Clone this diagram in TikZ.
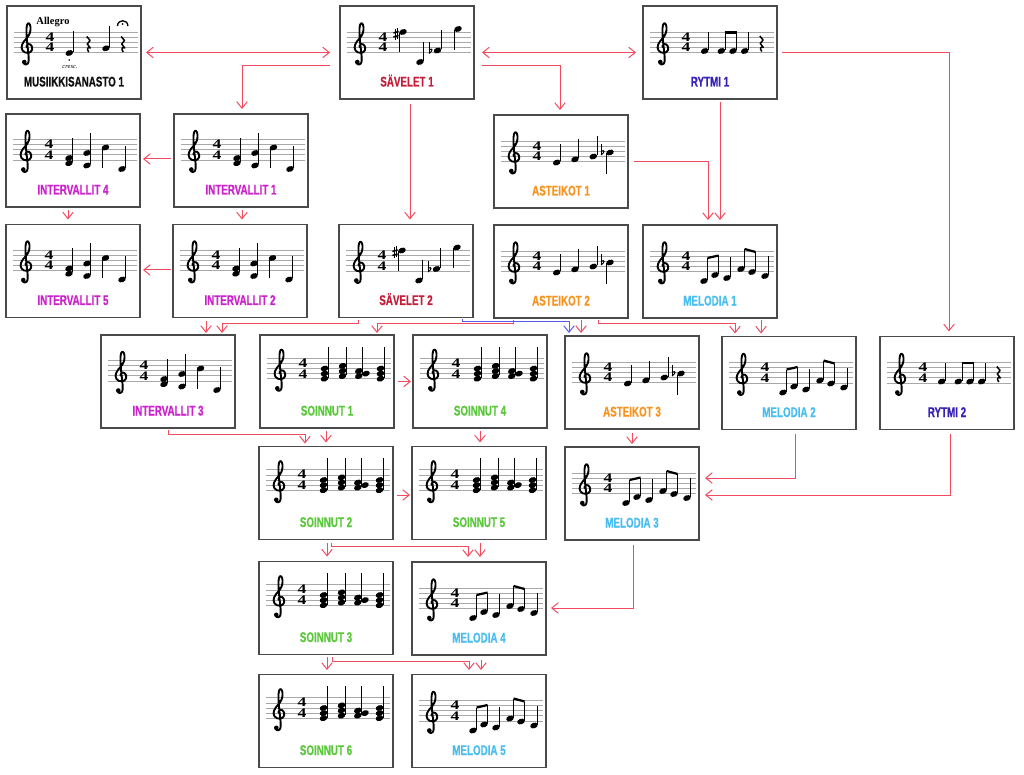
\documentclass[tikz,border=0pt]{standalone}
\usepackage{fontspec}
\usetikzlibrary{arrows.meta,calc}
\newfontfamily\labfont{Liberation Sans}[FakeStretch=0.70,FakeBold=0.6]
\newfontfamily\serfont{Liberation Serif}
\definecolor{boxcol}{HTML}{4A4A4A}
\definecolor{stafcol}{HTML}{A8A8A8}
\definecolor{arrcol}{RGB}{242,75,95}
\definecolor{bluecol}{RGB}{90,90,235}
\definecolor{muscol}{HTML}{111111}
\definecolor{savcol}{HTML}{C41E3A}
\definecolor{rytcol}{HTML}{3520B8}
\definecolor{intcol}{HTML}{CC22CC}
\definecolor{astcol}{HTML}{F79420}
\definecolor{melcol}{HTML}{48BEF0}
\definecolor{soicol}{HTML}{5AC83A}
\tikzset{
 box/.style={draw=boxcol, line width=1.3pt, fill=white, minimum width=134pt, minimum height=93pt, inner sep=0pt, outer sep=0pt},
 lab/.style={font={\fontsize{14}{16}\labfont\bfseries}, inner sep=0pt, anchor=base},
 arr/.style={draw=arrcol, line width=1pt, -{Straight Barb[length=6.5pt,width=10.5pt]}},
 arrd/.style={draw=arrcol, line width=1pt, {Straight Barb[length=6.5pt,width=10.5pt]}-{Straight Barb[length=6.5pt,width=10.5pt]}},
 arrb/.style={draw=bluecol, line width=1pt, -{Straight Barb[length=6.5pt,width=10.5pt]}},
 staffline/.style={draw=stafcol, line width=0.7pt},
 stemline/.style={line width=0.8pt},
 tsig/.style={font={\fontsize{13}{13}\serfont\bfseries}, inner sep=0pt},
}
\newcommand{\tsfour}{\scalebox{1.35}[1]{4}}
\newcommand{\clefpath}{%
 \draw[line width=1.9pt, line cap=round, line join=round] (8,16) .. controls (6,16) and (5.5,13) .. (8,12) .. controls (11,11.5) and (13,15) .. (12,18) .. controls (11,21.5) and (5,22) .. (2.5,18.5) .. controls (0,15) and (3,10) .. (6,7) .. controls (9,4) and (11,0) .. (10.5,-5) .. controls (10,-9) and (8,-10) .. (7,-7) .. controls (6,-4) and (6.5,5) .. (7.5,14) .. controls (8.5,22) and (9,27) .. (8.5,30) .. controls (8,33) and (4,33.5) .. (3.5,30.5);
 \fill (4.3,30) circle (2.3);
}
\newcommand{\basestaff}[1]{%
 \foreach \k in {0,1,2,3,4}{\draw[staffline] (7,{#1+5.1*\k}) -- (131,{#1+5.1*\k});}
 \begin{scope}[shift={(13,#1)}]\clefpath\end{scope}
 \node[tsig] at (43,{#1+4.9}) {\tsfour};
 \node[tsig] at (43,{#1+15.5}) {\tsfour};
}
\newcommand{\nh}[2]{\fill[shift={(#1,#2)}, rotate=20] (0,0) ellipse (3.9 and 2.8);}
\newcommand{\stem}[3]{\draw[stemline] (#1,#2) -- (#1,#3);}
\newcommand{\beam}[4]{\draw[line width=2.2pt] (#1,#2) -- (#3,#4);}
\newcommand{\sharpsign}[2]{%
 \begin{scope}[shift={(#1,#2)}]
 \draw[line width=0.6pt] (-1.2,-5) -- (-1.2,6) (1.2,-6) -- (1.2,5);
 \draw[line width=1.5pt] (-2.6,-1) -- (2.6,-2.6) (-2.6,3) -- (2.6,1.4);
 \end{scope}}
\newcommand{\flatsign}[2]{%
 \begin{scope}[shift={(#1,#2)}]
 \draw[line width=0.7pt] (-1.5,-8) -- (-1.5,3);
 \draw[line width=1pt] (-1.5,3) .. controls (2.5,0.5) and (2.5,-3) .. (-1.5,-0.5);
 \end{scope}}
\newcommand{\qrest}[2]{%
 \begin{scope}[shift={(#1,#2)}]
 \draw[line width=1.5pt, line join=round] (-1.5,-8) -- (1.8,-4) -- (-1,-0.5) -- (2,3.5) .. controls (-0.5,2) and (-2,4.5) .. (0.5,7.5);
 \end{scope}}
\newcommand{\savstaff}{%
 \basestaff{26}
 \sharpsign{56}{28}
 \nh{63}{26}\stem{59.4}{27}{46.5}
 \nh{80}{56}\stem{83.6}{55}{36}
 \flatsign{90.5}{44.5}
 \nh{97.5}{44.5}\stem{101.1}{43.5}{24}
 \nh{118}{23}\stem{114.4}{24}{44}
}
\newcommand{\melstaff}{%
 \basestaff{26}
 \nh{61}{56}\stem{64.6}{55}{33}
 \nh{72}{50}\stem{75.6}{49}{30.5}
 \beam{64.6}{33}{75.6}{30.5}
 \nh{84}{53}\stem{87.6}{52}{32}
 \nh{98}{44}\stem{101.6}{43}{24}
 \nh{109}{47}\stem{112.6}{46}{27}
 \beam{101.6}{24}{112.6}{27}
 \nh{122}{51}\stem{125.6}{50}{31}
}
\newcommand{\intstaff}{%
 \basestaff{25.5}
 \nh{63}{44}\nh{63}{49.2}\stem{66.6}{48}{24}
 \nh{81}{39}\nh{81}{51.5}\stem{84.6}{50.5}{19}
 \nh{99.5}{33.5}\stem{95.9}{34.5}{54}
 \nh{116}{55}\stem{119.6}{54}{32}
}
\newcommand{\aststaff}{%
 \basestaff{26}
 \nh{62.7}{47.5}\stem{66.3}{46.5}{29}
 \nh{81}{44.3}\stem{84.6}{43.3}{24.5}
 \nh{99.3}{41.5}\stem{102.9}{40.5}{21}
 \flatsign{108.5}{37}
 \nh{116}{37.5}\stem{112.4}{38.5}{59}
}
\newcommand{\soistaff}{%
 \basestaff{23.3}
 \nh{64.5}{33.5}\nh{64.5}{38.6}\nh{64.5}{43.7}\stem{68.1}{43}{11.7}
 \nh{82.5}{30.9}\nh{82.5}{36}\nh{82.5}{41.1}\stem{86.1}{40.4}{11.7}
 \nh{98.8}{36}\nh{98.8}{41.1}\nh{106}{38.6}\stem{102.4}{40.4}{11.7}
 \nh{120.5}{33.5}\nh{120.5}{38.6}\nh{120.5}{43.7}\stem{124.1}{43}{11.7}
}
\newcommand{\rytstaff}{%
 \basestaff{26}
 \nh{61.7}{45}\stem{65.3}{44}{26}
 \nh{78.3}{45}\stem{81.9}{44}{25.5}
 \nh{90}{45}\stem{93.6}{44}{25.5}
 \beam{81.5}{26.5}{94}{26.5}
 \nh{101.7}{45}\stem{105.3}{44}{26}
 \qrest{118.3}{38}
}
\newcommand{\musstaff}{%
 \basestaff{26}
 \node[font={\fontsize{10.5}{10.5}\serfont\bfseries}, inner sep=0pt] (allegro) at (46,16) {Allegro};
 \nh{62.3}{47}\stem{65.9}{46}{25}
 \fill (62.3,54) circle (0.9);
 \node[font={\fontsize{6.5}{6.5}\serfont\itshape}, inner sep=0pt] (cresc) at (63,60.8) {cresc.};
 \qrest{81.3}{38.5}
 \nh{99}{42.3}\stem{102.6}{41.3}{20}
 \qrest{115.7}{38.5}
 \draw[line width=1.3pt] (110.5,20) .. controls (110.5,13) and (120.9,13) .. (120.9,20);
 \fill (115.7,18) circle (1);
}
\newcommand{\putstaff}[2]{\begin{scope}[shift={(#1.north west)}]#2\end{scope}}
\begin{document}
\begin{tikzpicture}[x=1pt,y=-1pt]
\useasboundingbox (0,0) rectangle (1024,775);
\fill[white] (0,0) rectangle (1024,775);
% boxes
\node[box] (mus1) at (74,52.5) {};
\node[box] (sav1) at (407,52.5) {};
\node[box] (ryt1) at (710,52.5) {};
\node[box] (int4) at (73,160.5) {};
\node[box] (int1) at (241,160.5) {};
\node[box] (ast1) at (561,161.5) {};
\node[box] (int5) at (73,271) {};
\node[box] (int2) at (240,271) {};
\node[box] (sav2) at (406,271) {};
\node[box] (ast2) at (561,271.5) {};
\node[box] (mel1) at (710,271.5) {};
\node[box] (int3) at (168,381.5) {};
\node[box] (soi1) at (327,381.5) {};
\node[box] (soi4) at (480,381.5) {};
\node[box] (ast3) at (632,382.5) {};
\node[box] (mel2) at (789,383) {};
\node[box] (ryt2) at (947,383) {};
\node[box] (soi2) at (326,493) {};
\node[box] (soi5) at (479,493) {};
\node[box] (mel3) at (632,493.5) {};
\node[box] (soi3) at (326,608) {};
\node[box] (mel4) at (479,608.5) {};
\node[box] (soi6) at (326,721) {};
\node[box] (mel5) at (479,721) {};
% staves
\putstaff{mus1}{\musstaff}
\putstaff{sav1}{\savstaff}
\putstaff{sav2}{\savstaff}
\putstaff{ryt1}{\rytstaff}
\putstaff{ryt2}{\rytstaff}
\putstaff{int1}{\intstaff}
\putstaff{int2}{\intstaff}
\putstaff{int3}{\intstaff}
\putstaff{int4}{\intstaff}
\putstaff{int5}{\intstaff}
\putstaff{ast1}{\aststaff}
\putstaff{ast2}{\aststaff}
\putstaff{ast3}{\aststaff}
\putstaff{mel1}{\melstaff}
\putstaff{mel2}{\melstaff}
\putstaff{mel3}{\melstaff}
\putstaff{mel4}{\melstaff}
\putstaff{mel5}{\melstaff}
\putstaff{soi1}{\soistaff}
\putstaff{soi2}{\soistaff}
\putstaff{soi3}{\soistaff}
\putstaff{soi4}{\soistaff}
\putstaff{soi5}{\soistaff}
\putstaff{soi6}{\soistaff}
% labels
\node[lab, text=muscol] (mus1l) at ($(mus1.north)+(0,80.5)$) {MUSIIKKISANASTO 1};
\node[lab, text=savcol] (sav1l) at ($(sav1.north)+(0,80.5)$) {SÄVELET 1};
\node[lab, text=savcol] (sav2l) at ($(sav2.north)+(0,80.5)$) {SÄVELET 2};
\node[lab, text=rytcol] (ryt1l) at ($(ryt1.north)+(0,80.5)$) {RYTMI 1};
\node[lab, text=rytcol] (ryt2l) at ($(ryt2.north)+(0,80.5)$) {RYTMI 2};
\node[lab, text=intcol] (int1l) at ($(int1.north)+(0,80.5)$) {INTERVALLIT 1};
\node[lab, text=intcol] (int2l) at ($(int2.north)+(0,80.5)$) {INTERVALLIT 2};
\node[lab, text=intcol] (int3l) at ($(int3.north)+(0,80.5)$) {INTERVALLIT 3};
\node[lab, text=intcol] (int4l) at ($(int4.north)+(0,80.5)$) {INTERVALLIT 4};
\node[lab, text=intcol] (int5l) at ($(int5.north)+(0,80.5)$) {INTERVALLIT 5};
\node[lab, text=astcol] (ast1l) at ($(ast1.north)+(0,80.5)$) {ASTEIKOT 1};
\node[lab, text=astcol] (ast2l) at ($(ast2.north)+(0,80.5)$) {ASTEIKOT 2};
\node[lab, text=astcol] (ast3l) at ($(ast3.north)+(0,80.5)$) {ASTEIKOT 3};
\node[lab, text=melcol] (mel1l) at ($(mel1.north)+(0,80.5)$) {MELODIA 1};
\node[lab, text=melcol] (mel2l) at ($(mel2.north)+(0,80.5)$) {MELODIA 2};
\node[lab, text=melcol] (mel3l) at ($(mel3.north)+(0,80.5)$) {MELODIA 3};
\node[lab, text=melcol] (mel4l) at ($(mel4.north)+(0,80.5)$) {MELODIA 4};
\node[lab, text=melcol] (mel5l) at ($(mel5.north)+(0,80.5)$) {MELODIA 5};
\node[lab, text=soicol] (soi1l) at ($(soi1.north)+(0,80.5)$) {SOINNUT 1};
\node[lab, text=soicol] (soi2l) at ($(soi2.north)+(0,80.5)$) {SOINNUT 2};
\node[lab, text=soicol] (soi3l) at ($(soi3.north)+(0,80.5)$) {SOINNUT 3};
\node[lab, text=soicol] (soi4l) at ($(soi4.north)+(0,80.5)$) {SOINNUT 4};
\node[lab, text=soicol] (soi5l) at ($(soi5.north)+(0,80.5)$) {SOINNUT 5};
\node[lab, text=soicol] (soi6l) at ($(soi6.north)+(0,80.5)$) {SOINNUT 6};
% connectors
\draw[arrd] ($(mus1.east)+(5,0)$) -- ($(sav1.west)+(-10,0)$);
\draw[arr] ($(sav1.west)+(-10,13.5)$) -| ($(int1.north)+(1,-5)$);
\draw[arrd] ($(sav1.east)+(8,0)$) -- ($(ryt1.west)+(-7,0)$);
\draw[arr] ($(sav1.east)+(8,13.5)$) -| ($(ast1.north)+(-1,-5)$);
\draw[arr] ($(sav1.south)+(3,5)$) -- ($(sav2.north)+(4,-5)$);
\draw[arr] ($(ryt1.south)+(10,3)$) -- ($(mel1.north)+(10,-5)$);
\draw[arr] ($(ast1.east)+(6,0)$) -| ($(mel1.north)+(-2,-5)$);
\draw[arr] ($(ryt1.east)+(5,0)$) -| ($(ryt2.north)+(2,-5)$);
\draw[arr] ($(int1.west)+(-3,-1.5)$) -- ($(int4.east)+(3,-1.5)$);
\draw[arr] ($(int1.south)+(1,3)$) -- ($(int2.north)+(2,-5)$);
\draw[arr] ($(int4.south)+(-5,3)$) -- ($(int5.north)+(-5,-5)$);
\draw[arr] ($(int2.west)+(-2,-1)$) -- ($(int5.east)+(3,-1)$);
\draw[arr] ($(int2.south)+(-34,3)$) -- ($(int3.north)+(38,-2)$);
\draw[arr] ($(sav2.south)+(-48,2)$) -- ++(0,4) -| ($(int3.north)+(54,-2)$);
\draw[arr] ($(ast2.south)+(-48,1.5)$) -- ++(0,4) -| ($(soi1.north)+(50,-2)$);
\draw[arrb] ($(sav2.south)+(56,1)$) -- ++(0,3) -| ($(ast3.north)+(-63,-3)$);
\draw[arr] ($(ast2.south)+(20,2)$) -- ($(ast3.north)+(-51,-3)$);
\draw[arr] ($(ast2.south)+(37,2)$) -- ++(0,3.5) -| ($(mel2.north)+(-54,-3)$);
\draw[arr] ($(mel1.south)+(51,2)$) -- ($(mel2.north)+(-28,-3)$);
\draw[arr] ($(int3.south)+(0,2)$) -- ++(0,4) -| ($(soi2.north)+(-21,-3)$);
\draw[arr] ($(soi1.south)+(-1,3)$) -- ($(soi2.north)+(0,-4)$);
\draw[arr] ($(soi1.east)+(4,0)$) -- ($(soi4.west)+(-2,0)$);
\draw[arr] ($(soi4.south)+(0,3)$) -- ($(soi5.north)+(1,-4)$);
\draw[arr] ($(ast3.south)+(0,4)$) -- ($(mel3.north)+(0,-3)$);
\draw[arr] ($(mel2.south)+(6,4)$) |- ($(mel3.east)+(6,-15.5)$);
\draw[arr] ($(ryt2.south)+(3,4)$) |- ($(mel3.east)+(6,1.5)$);
\draw[arr] ($(soi2.east)+(4,2)$) -- ($(soi5.west)+(-2,2)$);
\draw[arr] ($(soi2.south)+(1,3)$) -- ($(soi3.north)+(1,-5)$);
\draw[arr] ($(soi2.south)+(5,3)$) -- ++(0,4) -| ($(mel4.north)+(-11,-5)$);
\draw[arr] ($(soi5.south)+(1,3)$) -- ($(mel4.north)+(1,-5)$);
\draw[arr] ($(mel3.south)+(1,5)$) |- ($(mel4.east)+(5,-0.5)$);
\draw[arr] ($(soi3.south)+(1,2.5)$) -- ($(soi6.north)+(1,-4.5)$);
\draw[arr] ($(soi3.south)+(6,2.5)$) -- ++(0,4) -| ($(mel5.north)+(-10,-4.5)$);
\draw[arr] ($(mel4.south)+(2,5)$) -- ($(mel5.north)+(2,-4.5)$);
\end{tikzpicture}
\end{document}
